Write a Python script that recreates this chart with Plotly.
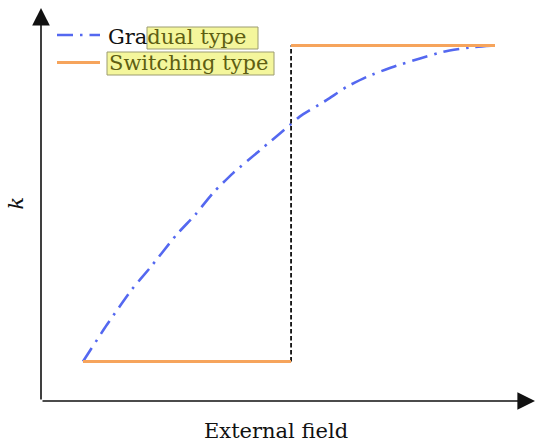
import plotly.graph_objects as go

# ---- data ----
field_gradual = [0, 0.058, 0.118, 0.163, 0.227, 0.272, 0.316, 0.365, 0.430, 0.502,
                 0.526, 0.591, 0.640, 0.689, 0.754, 0.818, 0.875, 0.940, 1.0]
k_gradual = [0, 0.116, 0.227, 0.297, 0.401, 0.464, 0.534, 0.597, 0.669, 0.748,
             0.775, 0.827, 0.869, 0.901, 0.933, 0.959, 0.980, 0.994, 1.0]

switch_field = 0.505
field_switch_low = [0, switch_field]
k_switch_low = [0, 0]
field_switch_high = [switch_field, 1.0]
k_switch_high = [1, 1]
field_jump = [switch_field, switch_field]
k_jump = [0, 1]

legend_names = ["Gradual type", "Switching type"]
x_label = "External field"
y_label = "k"

BLUE = "#5468f0"
ORANGE = "#f6a45c"
OLIVE = "#5e5e12"
FONT = "DejaVu Serif"
FS = 21

fig = go.Figure()
fig.add_trace(go.Scatter(x=field_gradual, y=k_gradual, mode="lines",
                         line=dict(color=BLUE, width=2.6, dash="16px,7px,2.5px,7px", shape="spline", smoothing=0.6),
                         showlegend=False, hoverinfo="skip"))
fig.add_trace(go.Scatter(x=field_jump, y=k_jump, mode="lines",
                         line=dict(color="black", width=1.7, dash="4.5px,2.5px"),
                         showlegend=False, hoverinfo="skip"))
fig.add_trace(go.Scatter(x=field_switch_low, y=k_switch_low, mode="lines",
                         line=dict(color=ORANGE, width=2.8), showlegend=False, hoverinfo="skip"))
fig.add_trace(go.Scatter(x=field_switch_high, y=k_switch_high, mode="lines",
                         line=dict(color=ORANGE, width=2.8), showlegend=False, hoverinfo="skip"))

# body margin is removed below, so figure pixels == page pixels
W, H = 547, 447
PL, PR, PT, PB = 41, 535, 8, 401          # plot box in pixels
L, T = PL, PT
R, B = W - PR, H - PB
PW, PH = PR - PL, PB - PT


def px(x):
    return (x - PL) / PW


def py(y):
    return (PB - y) / PH


shapes = [
    # legend samples
    dict(type="line", xref="paper", yref="paper", x0=px(57), x1=px(100), y0=py(35), y1=py(35),
         line=dict(color=BLUE, width=2.6, dash="16px,7px,2.5px,7px")),
    dict(type="line", xref="paper", yref="paper", x0=px(57), x1=px(100), y0=py(62.5), y1=py(62.5),
         line=dict(color=ORANGE, width=2.8)),
    # highlight boxes
    dict(type="rect", xref="paper", yref="paper", x0=px(147), x1=px(258), y0=py(49), y1=py(27),
         fillcolor="#f4f69c", line=dict(color="#9c9c70", width=1), layer="above"),
    dict(type="rect", xref="paper", yref="paper", x0=px(107), x1=px(274), y0=py(75), y1=py(52),
         fillcolor="#f4f69c", line=dict(color="#9c9c70", width=1), layer="above"),
]

annotations = [
    # axes with arrows
    dict(x=1, y=0, xref="paper", yref="paper", ax=-PW, ay=0, axref="pixel", ayref="pixel",
         showarrow=True, arrowhead=2, arrowsize=2.2, arrowwidth=1.6, arrowcolor="#111", text="",
         standoff=0, startstandoff=0),
    dict(x=0, y=1, xref="paper", yref="paper", ax=0, ay=PH, axref="pixel", ayref="pixel",
         showarrow=True, arrowhead=2, arrowsize=2.2, arrowwidth=1.6, arrowcolor="#111", text="",
         standoff=0, startstandoff=0),
    # labels
    dict(x=px(276), y=py(431), xref="paper", yref="paper", text=x_label, showarrow=False,
         xanchor="center", yanchor="middle", font=dict(family=FONT, size=FS, color="#111")),
    dict(x=px(15.5), y=py(203), xref="paper", yref="paper", text="<i>" + y_label + "</i>", showarrow=False,
         xanchor="center", yanchor="middle", borderpad=0,
         textangle=-90, font=dict(family=FONT, size=FS, color="#111")),
    # legend texts
    dict(x=px(106), y=py(37), xref="paper", yref="paper", xanchor="left", yanchor="middle",
         text=legend_names[0][:3] + "<span style='color:" + OLIVE + "'>" + legend_names[0][3:] + "</span>",
         showarrow=False, font=dict(family=FONT, size=FS, color="#111")),
    dict(x=px(107), y=py(63.5), xref="paper", yref="paper", xanchor="left", yanchor="middle",
         text=legend_names[1], showarrow=False, font=dict(family=FONT, size=FS, color=OLIVE)),
]

fig.update_layout(
    width=W, height=H,
    margin=dict(l=L, r=R, t=T, b=B, pad=0),
    paper_bgcolor="white", plot_bgcolor="white",
    xaxis=dict(range=[(PL - 83) / 412, (PR - 83) / 412], visible=False, fixedrange=True),
    yaxis=dict(range=[(361.5 - PB) / 316, (361.5 - PT) / 316], visible=False, fixedrange=True),
    shapes=shapes,
    annotations=annotations,
    showlegend=False,
)

fig.write_html("out.html",
               config={"displayModeBar": False, "staticPlot": True},
               post_script="document.body.style.margin='0px';document.body.style.overflow='hidden';")
